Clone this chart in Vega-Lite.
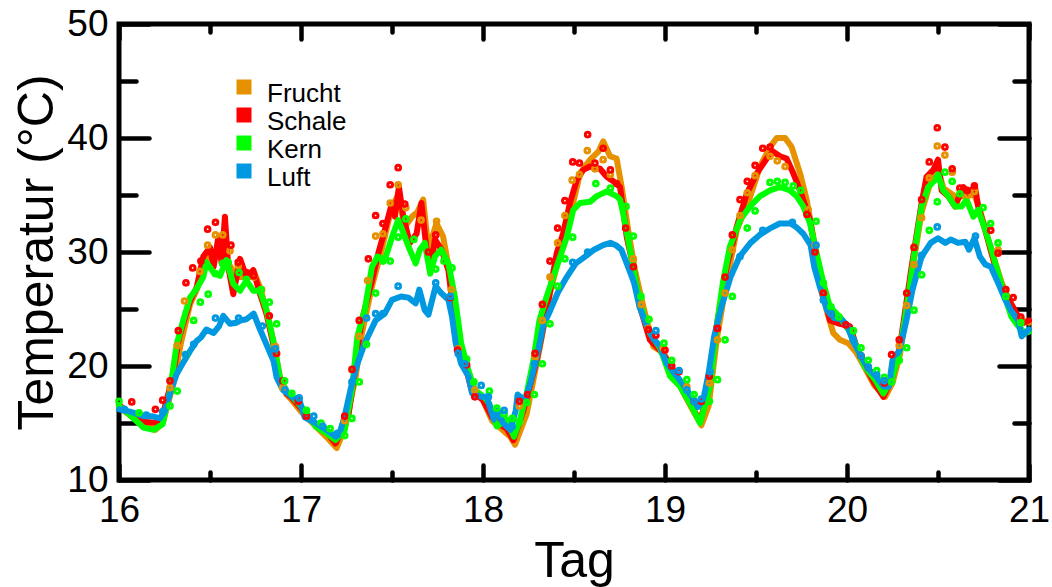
{
"$schema":"https://vega.github.io/schema/vega-lite/v6.json",
"width":910,"height":456,
"autosize":{"type":"none"},
"padding":{"left":119,"top":24,"right":23,"bottom":107},
"background":"white",
"datasets":{
"L":[
{"s":"Frucht","d":16.0,"t":16.4},{"s":"Frucht","d":16.05,"t":15.8},{"s":"Frucht","d":16.134,"t":14.8},{"s":"Frucht","d":16.2,"t":14.4},{"s":"Frucht","d":16.24,"t":15.0},{"s":"Frucht","d":16.3,"t":18.5},{"s":"Frucht","d":16.34,"t":22.0},{"s":"Frucht","d":16.39,"t":25.4},{"s":"Frucht","d":16.43,"t":26.8},{"s":"Frucht","d":16.463,"t":28.7},{"s":"Frucht","d":16.5,"t":29.9},{"s":"Frucht","d":16.555,"t":29.6},{"s":"Frucht","d":16.59,"t":29.3},{"s":"Frucht","d":16.646,"t":27.8},{"s":"Frucht","d":16.72,"t":27.8},{"s":"Frucht","d":16.738,"t":28.4},{"s":"Frucht","d":16.775,"t":26.9},{"s":"Frucht","d":16.81,"t":24.9},{"s":"Frucht","d":16.848,"t":22.2},{"s":"Frucht","d":16.884,"t":19.0},{"s":"Frucht","d":16.92,"t":17.5},{"s":"Frucht","d":16.95,"t":17.0},{"s":"Frucht","d":17.0,"t":16.0},{"s":"Frucht","d":17.05,"t":15.2},{"s":"Frucht","d":17.1,"t":14.4},{"s":"Frucht","d":17.15,"t":13.6},{"s":"Frucht","d":17.196,"t":12.8},{"s":"Frucht","d":17.24,"t":14.5},{"s":"Frucht","d":17.3,"t":19.0},{"s":"Frucht","d":17.33,"t":22.5},{"s":"Frucht","d":17.39,"t":27.0},{"s":"Frucht","d":17.44,"t":30.0},{"s":"Frucht","d":17.5,"t":34.0},{"s":"Frucht","d":17.534,"t":35.0},{"s":"Frucht","d":17.57,"t":32.2},{"s":"Frucht","d":17.61,"t":33.1},{"s":"Frucht","d":17.64,"t":33.5},{"s":"Frucht","d":17.671,"t":34.6},{"s":"Frucht","d":17.7,"t":30.2},{"s":"Frucht","d":17.744,"t":32.5},{"s":"Frucht","d":17.78,"t":31.4},{"s":"Frucht","d":17.818,"t":28.1},{"s":"Frucht","d":17.864,"t":22.6},{"s":"Frucht","d":17.9,"t":20.3},{"s":"Frucht","d":17.95,"t":18.0},{"s":"Frucht","d":18.0,"t":17.0},{"s":"Frucht","d":18.05,"t":15.2},{"s":"Frucht","d":18.1,"t":14.5},{"s":"Frucht","d":18.15,"t":13.8},{"s":"Frucht","d":18.176,"t":13.1},{"s":"Frucht","d":18.24,"t":15.8},{"s":"Frucht","d":18.313,"t":21.7},{"s":"Frucht","d":18.368,"t":26.4},{"s":"Frucht","d":18.423,"t":29.9},{"s":"Frucht","d":18.478,"t":33.1},{"s":"Frucht","d":18.533,"t":36.9},{"s":"Frucht","d":18.588,"t":38.1},{"s":"Frucht","d":18.634,"t":38.8},{"s":"Frucht","d":18.661,"t":39.7},{"s":"Frucht","d":18.698,"t":38.4},{"s":"Frucht","d":18.734,"t":38.2},{"s":"Frucht","d":18.762,"t":35.7},{"s":"Frucht","d":18.798,"t":31.9},{"s":"Frucht","d":18.835,"t":28.4},{"s":"Frucht","d":18.881,"t":25.2},{"s":"Frucht","d":18.936,"t":21.7},{"s":"Frucht","d":18.99,"t":21.2},{"s":"Frucht","d":19.05,"t":19.5},{"s":"Frucht","d":19.1,"t":17.7},{"s":"Frucht","d":19.15,"t":16.2},{"s":"Frucht","d":19.2,"t":14.8},{"s":"Frucht","d":19.24,"t":16.5},{"s":"Frucht","d":19.284,"t":22.3},{"s":"Frucht","d":19.339,"t":27.5},{"s":"Frucht","d":19.394,"t":31.9},{"s":"Frucht","d":19.467,"t":34.8},{"s":"Frucht","d":19.522,"t":37.5},{"s":"Frucht","d":19.577,"t":39.2},{"s":"Frucht","d":19.614,"t":40.0},{"s":"Frucht","d":19.66,"t":40.0},{"s":"Frucht","d":19.696,"t":39.2},{"s":"Frucht","d":19.742,"t":36.9},{"s":"Frucht","d":19.778,"t":34.6},{"s":"Frucht","d":19.815,"t":31.3},{"s":"Frucht","d":19.851,"t":27.5},{"s":"Frucht","d":19.888,"t":24.9},{"s":"Frucht","d":19.924,"t":22.9},{"s":"Frucht","d":19.961,"t":22.3},{"s":"Frucht","d":20.007,"t":22.0},{"s":"Frucht","d":20.05,"t":21.2},{"s":"Frucht","d":20.1,"t":19.8},{"s":"Frucht","d":20.15,"t":18.3},{"s":"Frucht","d":20.21,"t":17.3},{"s":"Frucht","d":20.25,"t":18.5},{"s":"Frucht","d":20.291,"t":21.0},{"s":"Frucht","d":20.355,"t":28.0},{"s":"Frucht","d":20.41,"t":33.5},{"s":"Frucht","d":20.46,"t":36.2},{"s":"Frucht","d":20.5,"t":37.2},{"s":"Frucht","d":20.53,"t":35.6},{"s":"Frucht","d":20.6,"t":34.8},{"s":"Frucht","d":20.64,"t":34.9},{"s":"Frucht","d":20.7,"t":35.0},{"s":"Frucht","d":20.73,"t":33.7},{"s":"Frucht","d":20.76,"t":32.0},{"s":"Frucht","d":20.8,"t":29.8},{"s":"Frucht","d":20.85,"t":27.3},{"s":"Frucht","d":20.9,"t":25.4},{"s":"Frucht","d":20.95,"t":24.0},{"s":"Frucht","d":21.0,"t":23.8},
{"s":"Schale","d":16.0,"t":16.6},{"s":"Schale","d":16.05,"t":15.9},{"s":"Schale","d":16.134,"t":15.1},{"s":"Schale","d":16.21,"t":15.0},{"s":"Schale","d":16.24,"t":15.7},{"s":"Schale","d":16.295,"t":19.0},{"s":"Schale","d":16.33,"t":22.5},{"s":"Schale","d":16.39,"t":25.7},{"s":"Schale","d":16.427,"t":26.9},{"s":"Schale","d":16.463,"t":29.6},{"s":"Schale","d":16.5,"t":30.4},{"s":"Schale","d":16.52,"t":28.7},{"s":"Schale","d":16.546,"t":31.3},{"s":"Schale","d":16.564,"t":29.0},{"s":"Schale","d":16.582,"t":33.1},{"s":"Schale","d":16.6,"t":28.7},{"s":"Schale","d":16.628,"t":26.3},{"s":"Schale","d":16.665,"t":29.4},{"s":"Schale","d":16.7,"t":27.8},{"s":"Schale","d":16.738,"t":28.4},{"s":"Schale","d":16.775,"t":26.3},{"s":"Schale","d":16.81,"t":24.6},{"s":"Schale","d":16.848,"t":21.9},{"s":"Schale","d":16.884,"t":18.8},{"s":"Schale","d":16.92,"t":17.6},{"s":"Schale","d":16.95,"t":17.2},{"s":"Schale","d":17.0,"t":16.3},{"s":"Schale","d":17.05,"t":15.4},{"s":"Schale","d":17.1,"t":14.6},{"s":"Schale","d":17.15,"t":14.0},{"s":"Schale","d":17.19,"t":13.2},{"s":"Schale","d":17.26,"t":15.6},{"s":"Schale","d":17.3,"t":19.9},{"s":"Schale","d":17.33,"t":23.7},{"s":"Schale","d":17.39,"t":27.5},{"s":"Schale","d":17.425,"t":29.9},{"s":"Schale","d":17.46,"t":31.9},{"s":"Schale","d":17.5,"t":34.3},{"s":"Schale","d":17.516,"t":33.1},{"s":"Schale","d":17.538,"t":35.7},{"s":"Schale","d":17.562,"t":33.1},{"s":"Schale","d":17.598,"t":30.8},{"s":"Schale","d":17.635,"t":31.6},{"s":"Schale","d":17.662,"t":34.3},{"s":"Schale","d":17.69,"t":30.2},{"s":"Schale","d":17.717,"t":29.0},{"s":"Schale","d":17.736,"t":31.1},{"s":"Schale","d":17.772,"t":30.2},{"s":"Schale","d":17.81,"t":28.4},{"s":"Schale","d":17.845,"t":23.7},{"s":"Schale","d":17.882,"t":21.4},{"s":"Schale","d":17.937,"t":17.9},{"s":"Schale","d":18.0,"t":17.0},{"s":"Schale","d":18.05,"t":15.5},{"s":"Schale","d":18.1,"t":14.8},{"s":"Schale","d":18.13,"t":14.5},{"s":"Schale","d":18.167,"t":13.5},{"s":"Schale","d":18.222,"t":16.1},{"s":"Schale","d":18.295,"t":20.5},{"s":"Schale","d":18.35,"t":24.9},{"s":"Schale","d":18.405,"t":29.9},{"s":"Schale","d":18.44,"t":31.6},{"s":"Schale","d":18.478,"t":34.3},{"s":"Schale","d":18.515,"t":36.3},{"s":"Schale","d":18.551,"t":37.2},{"s":"Schale","d":18.588,"t":37.5},{"s":"Schale","d":18.643,"t":37.3},{"s":"Schale","d":18.68,"t":36.6},{"s":"Schale","d":18.716,"t":36.2},{"s":"Schale","d":18.753,"t":35.7},{"s":"Schale","d":18.79,"t":31.3},{"s":"Schale","d":18.826,"t":28.7},{"s":"Schale","d":18.862,"t":25.2},{"s":"Schale","d":18.917,"t":22.3},{"s":"Schale","d":18.972,"t":21.4},{"s":"Schale","d":19.0,"t":20.8},{"s":"Schale","d":19.05,"t":19.5},{"s":"Schale","d":19.1,"t":17.8},{"s":"Schale","d":19.15,"t":16.4},{"s":"Schale","d":19.193,"t":15.1},{"s":"Schale","d":19.24,"t":18.0},{"s":"Schale","d":19.284,"t":23.5},{"s":"Schale","d":19.339,"t":28.7},{"s":"Schale","d":19.394,"t":32.2},{"s":"Schale","d":19.449,"t":35.1},{"s":"Schale","d":19.504,"t":36.9},{"s":"Schale","d":19.559,"t":38.2},{"s":"Schale","d":19.595,"t":38.8},{"s":"Schale","d":19.632,"t":38.4},{"s":"Schale","d":19.668,"t":38.2},{"s":"Schale","d":19.705,"t":36.9},{"s":"Schale","d":19.742,"t":35.4},{"s":"Schale","d":19.797,"t":32.8},{"s":"Schale","d":19.833,"t":29.3},{"s":"Schale","d":19.87,"t":26.4},{"s":"Schale","d":19.906,"t":24.0},{"s":"Schale","d":19.961,"t":23.7},{"s":"Schale","d":20.016,"t":23.5},{"s":"Schale","d":20.05,"t":21.8},{"s":"Schale","d":20.1,"t":20.0},{"s":"Schale","d":20.15,"t":18.5},{"s":"Schale","d":20.2,"t":17.3},{"s":"Schale","d":20.245,"t":18.8},{"s":"Schale","d":20.291,"t":21.7},{"s":"Schale","d":20.355,"t":28.7},{"s":"Schale","d":20.41,"t":34.3},{"s":"Schale","d":20.437,"t":36.6},{"s":"Schale","d":20.474,"t":37.2},{"s":"Schale","d":20.5,"t":38.1},{"s":"Schale","d":20.52,"t":35.4},{"s":"Schale","d":20.556,"t":34.9},{"s":"Schale","d":20.593,"t":34.0},{"s":"Schale","d":20.639,"t":35.7},{"s":"Schale","d":20.666,"t":35.2},{"s":"Schale","d":20.703,"t":35.7},{"s":"Schale","d":20.721,"t":34.0},{"s":"Schale","d":20.758,"t":32.0},{"s":"Schale","d":20.794,"t":29.9},{"s":"Schale","d":20.831,"t":27.8},{"s":"Schale","d":20.867,"t":26.4},{"s":"Schale","d":20.922,"t":24.9},{"s":"Schale","d":20.959,"t":23.7},{"s":"Schale","d":21.0,"t":24.0},
{"s":"Kern","d":16.0,"t":16.5},{"s":"Kern","d":16.06,"t":15.7},{"s":"Kern","d":16.134,"t":14.6},{"s":"Kern","d":16.19,"t":14.4},{"s":"Kern","d":16.24,"t":14.9},{"s":"Kern","d":16.28,"t":17.8},{"s":"Kern","d":16.317,"t":21.9},{"s":"Kern","d":16.353,"t":24.0},{"s":"Kern","d":16.39,"t":26.0},{"s":"Kern","d":16.427,"t":26.8},{"s":"Kern","d":16.463,"t":27.8},{"s":"Kern","d":16.48,"t":29.1},{"s":"Kern","d":16.52,"t":28.2},{"s":"Kern","d":16.555,"t":27.9},{"s":"Kern","d":16.59,"t":29.3},{"s":"Kern","d":16.628,"t":27.2},{"s":"Kern","d":16.665,"t":26.6},{"s":"Kern","d":16.7,"t":27.5},{"s":"Kern","d":16.738,"t":26.6},{"s":"Kern","d":16.775,"t":26.6},{"s":"Kern","d":16.81,"t":24.9},{"s":"Kern","d":16.848,"t":22.2},{"s":"Kern","d":16.884,"t":19.0},{"s":"Kern","d":16.92,"t":17.8},{"s":"Kern","d":16.976,"t":16.9},{"s":"Kern","d":17.03,"t":15.9},{"s":"Kern","d":17.08,"t":14.7},{"s":"Kern","d":17.14,"t":14.1},{"s":"Kern","d":17.19,"t":13.5},{"s":"Kern","d":17.24,"t":14.4},{"s":"Kern","d":17.28,"t":17.9},{"s":"Kern","d":17.31,"t":22.6},{"s":"Kern","d":17.35,"t":24.9},{"s":"Kern","d":17.39,"t":28.7},{"s":"Kern","d":17.42,"t":29.6},{"s":"Kern","d":17.46,"t":29.3},{"s":"Kern","d":17.5,"t":31.3},{"s":"Kern","d":17.534,"t":32.8},{"s":"Kern","d":17.55,"t":32.2},{"s":"Kern","d":17.59,"t":30.5},{"s":"Kern","d":17.63,"t":29.0},{"s":"Kern","d":17.653,"t":30.2},{"s":"Kern","d":17.68,"t":30.8},{"s":"Kern","d":17.71,"t":28.1},{"s":"Kern","d":17.736,"t":29.6},{"s":"Kern","d":17.77,"t":30.2},{"s":"Kern","d":17.81,"t":29.0},{"s":"Kern","d":17.845,"t":26.1},{"s":"Kern","d":17.88,"t":22.0},{"s":"Kern","d":17.92,"t":19.6},{"s":"Kern","d":17.955,"t":17.9},{"s":"Kern","d":18.01,"t":17.2},{"s":"Kern","d":18.035,"t":16.7},{"s":"Kern","d":18.075,"t":14.7},{"s":"Kern","d":18.13,"t":15.3},{"s":"Kern","d":18.17,"t":13.8},{"s":"Kern","d":18.204,"t":15.3},{"s":"Kern","d":18.24,"t":17.6},{"s":"Kern","d":18.277,"t":20.5},{"s":"Kern","d":18.31,"t":24.0},{"s":"Kern","d":18.35,"t":26.1},{"s":"Kern","d":18.405,"t":28.7},{"s":"Kern","d":18.46,"t":31.3},{"s":"Kern","d":18.496,"t":33.7},{"s":"Kern","d":18.533,"t":34.3},{"s":"Kern","d":18.588,"t":34.4},{"s":"Kern","d":18.625,"t":34.9},{"s":"Kern","d":18.68,"t":35.3},{"s":"Kern","d":18.734,"t":34.9},{"s":"Kern","d":18.753,"t":34.6},{"s":"Kern","d":18.77,"t":33.4},{"s":"Kern","d":18.808,"t":30.2},{"s":"Kern","d":18.844,"t":27.0},{"s":"Kern","d":18.88,"t":24.6},{"s":"Kern","d":18.917,"t":22.9},{"s":"Kern","d":18.972,"t":21.6},{"s":"Kern","d":19.028,"t":19.1},{"s":"Kern","d":19.083,"t":18.2},{"s":"Kern","d":19.138,"t":16.7},{"s":"Kern","d":19.193,"t":15.0},{"s":"Kern","d":19.247,"t":18.2},{"s":"Kern","d":19.284,"t":23.5},{"s":"Kern","d":19.32,"t":27.5},{"s":"Kern","d":19.357,"t":30.5},{"s":"Kern","d":19.412,"t":32.8},{"s":"Kern","d":19.467,"t":34.0},{"s":"Kern","d":19.522,"t":34.9},{"s":"Kern","d":19.577,"t":35.4},{"s":"Kern","d":19.632,"t":35.7},{"s":"Kern","d":19.687,"t":35.4},{"s":"Kern","d":19.723,"t":34.9},{"s":"Kern","d":19.76,"t":34.0},{"s":"Kern","d":19.797,"t":32.5},{"s":"Kern","d":19.833,"t":29.9},{"s":"Kern","d":19.87,"t":27.3},{"s":"Kern","d":19.906,"t":25.2},{"s":"Kern","d":19.961,"t":24.3},{"s":"Kern","d":20.016,"t":23.0},{"s":"Kern","d":20.05,"t":21.8},{"s":"Kern","d":20.099,"t":19.9},{"s":"Kern","d":20.154,"t":18.8},{"s":"Kern","d":20.2,"t":17.6},{"s":"Kern","d":20.245,"t":18.8},{"s":"Kern","d":20.291,"t":21.4},{"s":"Kern","d":20.337,"t":26.1},{"s":"Kern","d":20.373,"t":30.2},{"s":"Kern","d":20.41,"t":34.0},{"s":"Kern","d":20.446,"t":35.7},{"s":"Kern","d":20.483,"t":36.3},{"s":"Kern","d":20.5,"t":36.8},{"s":"Kern","d":20.529,"t":35.4},{"s":"Kern","d":20.556,"t":34.9},{"s":"Kern","d":20.593,"t":34.0},{"s":"Kern","d":20.63,"t":34.0},{"s":"Kern","d":20.657,"t":34.6},{"s":"Kern","d":20.694,"t":33.1},{"s":"Kern","d":20.721,"t":33.7},{"s":"Kern","d":20.758,"t":32.0},{"s":"Kern","d":20.794,"t":30.2},{"s":"Kern","d":20.831,"t":28.1},{"s":"Kern","d":20.867,"t":26.1},{"s":"Kern","d":20.904,"t":24.3},{"s":"Kern","d":20.941,"t":23.5},{"s":"Kern","d":20.977,"t":22.9},{"s":"Kern","d":21.0,"t":23.0},
{"s":"Luft","d":16.0,"t":16.2},{"s":"Luft","d":16.06,"t":16.0},{"s":"Luft","d":16.1,"t":15.8},{"s":"Luft","d":16.134,"t":15.6},{"s":"Luft","d":16.18,"t":15.6},{"s":"Luft","d":16.225,"t":15.4},{"s":"Luft","d":16.25,"t":16.0},{"s":"Luft","d":16.29,"t":18.1},{"s":"Luft","d":16.317,"t":19.3},{"s":"Luft","d":16.353,"t":20.3},{"s":"Luft","d":16.39,"t":21.3},{"s":"Luft","d":16.427,"t":22.2},{"s":"Luft","d":16.45,"t":22.5},{"s":"Luft","d":16.48,"t":23.2},{"s":"Luft","d":16.52,"t":22.9},{"s":"Luft","d":16.55,"t":23.5},{"s":"Luft","d":16.573,"t":24.4},{"s":"Luft","d":16.61,"t":23.7},{"s":"Luft","d":16.646,"t":23.8},{"s":"Luft","d":16.67,"t":24.0},{"s":"Luft","d":16.7,"t":24.1},{"s":"Luft","d":16.74,"t":24.6},{"s":"Luft","d":16.775,"t":23.2},{"s":"Luft","d":16.81,"t":21.9},{"s":"Luft","d":16.85,"t":20.4},{"s":"Luft","d":16.866,"t":19.0},{"s":"Luft","d":16.9,"t":17.9},{"s":"Luft","d":16.96,"t":17.2},{"s":"Luft","d":16.99,"t":17.1},{"s":"Luft","d":17.02,"t":15.5},{"s":"Luft","d":17.08,"t":15.0},{"s":"Luft","d":17.13,"t":14.5},{"s":"Luft","d":17.19,"t":13.8},{"s":"Luft","d":17.21,"t":14.0},{"s":"Luft","d":17.24,"t":15.6},{"s":"Luft","d":17.28,"t":18.5},{"s":"Luft","d":17.31,"t":20.2},{"s":"Luft","d":17.35,"t":22.0},{"s":"Luft","d":17.41,"t":24.0},{"s":"Luft","d":17.46,"t":24.6},{"s":"Luft","d":17.5,"t":25.8},{"s":"Luft","d":17.55,"t":26.1},{"s":"Luft","d":17.59,"t":26.0},{"s":"Luft","d":17.63,"t":25.5},{"s":"Luft","d":17.65,"t":26.7},{"s":"Luft","d":17.68,"t":24.9},{"s":"Luft","d":17.7,"t":24.5},{"s":"Luft","d":17.74,"t":27.0},{"s":"Luft","d":17.77,"t":26.4},{"s":"Luft","d":17.81,"t":25.8},{"s":"Luft","d":17.83,"t":24.3},{"s":"Luft","d":17.85,"t":22.0},{"s":"Luft","d":17.88,"t":20.2},{"s":"Luft","d":17.92,"t":19.1},{"s":"Luft","d":17.94,"t":17.6},{"s":"Luft","d":17.99,"t":17.3},{"s":"Luft","d":18.02,"t":17.3},{"s":"Luft","d":18.06,"t":15.3},{"s":"Luft","d":18.08,"t":16.1},{"s":"Luft","d":18.11,"t":15.0},{"s":"Luft","d":18.15,"t":14.4},{"s":"Luft","d":18.18,"t":16.1},{"s":"Luft","d":18.19,"t":17.5},{"s":"Luft","d":18.23,"t":17.0},{"s":"Luft","d":18.26,"t":18.5},{"s":"Luft","d":18.3,"t":21.1},{"s":"Luft","d":18.33,"t":23.5},{"s":"Luft","d":18.37,"t":24.9},{"s":"Luft","d":18.41,"t":26.4},{"s":"Luft","d":18.46,"t":27.8},{"s":"Luft","d":18.51,"t":29.0},{"s":"Luft","d":18.57,"t":29.7},{"s":"Luft","d":18.61,"t":30.2},{"s":"Luft","d":18.66,"t":30.6},{"s":"Luft","d":18.7,"t":30.8},{"s":"Luft","d":18.73,"t":30.6},{"s":"Luft","d":18.76,"t":30.2},{"s":"Luft","d":18.79,"t":29.0},{"s":"Luft","d":18.83,"t":27.3},{"s":"Luft","d":18.86,"t":25.2},{"s":"Luft","d":18.9,"t":23.5},{"s":"Luft","d":18.94,"t":22.3},{"s":"Luft","d":18.97,"t":21.8},{"s":"Luft","d":19.01,"t":20.2},{"s":"Luft","d":19.05,"t":19.4},{"s":"Luft","d":19.08,"t":18.8},{"s":"Luft","d":19.12,"t":17.9},{"s":"Luft","d":19.16,"t":17.0},{"s":"Luft","d":19.18,"t":16.4},{"s":"Luft","d":19.21,"t":17.0},{"s":"Luft","d":19.24,"t":19.4},{"s":"Luft","d":19.27,"t":22.6},{"s":"Luft","d":19.31,"t":25.2},{"s":"Luft","d":19.36,"t":27.8},{"s":"Luft","d":19.41,"t":29.6},{"s":"Luft","d":19.47,"t":30.8},{"s":"Luft","d":19.52,"t":31.5},{"s":"Luft","d":19.58,"t":32.1},{"s":"Luft","d":19.63,"t":32.5},{"s":"Luft","d":19.69,"t":32.5},{"s":"Luft","d":19.72,"t":32.2},{"s":"Luft","d":19.76,"t":31.6},{"s":"Luft","d":19.8,"t":30.6},{"s":"Luft","d":19.82,"t":28.7},{"s":"Luft","d":19.85,"t":27.0},{"s":"Luft","d":19.89,"t":24.9},{"s":"Luft","d":19.93,"t":24.2},{"s":"Luft","d":19.97,"t":24.1},{"s":"Luft","d":20.0,"t":23.6},{"s":"Luft","d":20.03,"t":22.3},{"s":"Luft","d":20.08,"t":20.8},{"s":"Luft","d":20.12,"t":19.7},{"s":"Luft","d":20.16,"t":19.1},{"s":"Luft","d":20.2,"t":18.2},{"s":"Luft","d":20.23,"t":18.2},{"s":"Luft","d":20.25,"t":20.5},{"s":"Luft","d":20.29,"t":21.4},{"s":"Luft","d":20.33,"t":24.3},{"s":"Luft","d":20.36,"t":26.7},{"s":"Luft","d":20.41,"t":29.6},{"s":"Luft","d":20.46,"t":30.8},{"s":"Luft","d":20.5,"t":31.2},{"s":"Luft","d":20.54,"t":30.8},{"s":"Luft","d":20.57,"t":31.1},{"s":"Luft","d":20.61,"t":30.8},{"s":"Luft","d":20.65,"t":30.9},{"s":"Luft","d":20.67,"t":30.2},{"s":"Luft","d":20.7,"t":31.2},{"s":"Luft","d":20.73,"t":29.6},{"s":"Luft","d":20.76,"t":28.9},{"s":"Luft","d":20.79,"t":28.7},{"s":"Luft","d":20.83,"t":27.3},{"s":"Luft","d":20.87,"t":25.8},{"s":"Luft","d":20.9,"t":24.9},{"s":"Luft","d":20.94,"t":24.0},{"s":"Luft","d":20.96,"t":22.6},{"s":"Luft","d":21.0,"t":23.2}
],
"P":[
{"s":"Frucht","d":16.28,"t":18.1},{"s":"Frucht","d":16.32,"t":21.8},{"s":"Frucht","d":16.36,"t":25.7},{"s":"Frucht","d":16.445,"t":28.3},{"s":"Frucht","d":16.487,"t":30.6},{"s":"Frucht","d":16.53,"t":31.5},{"s":"Frucht","d":16.57,"t":31.5},{"s":"Frucht","d":16.61,"t":30.1},{"s":"Frucht","d":16.655,"t":28.8},{"s":"Frucht","d":16.74,"t":27.8},{"s":"Frucht","d":16.784,"t":26.7},{"s":"Frucht","d":16.86,"t":21.7},{"s":"Frucht","d":16.9,"t":18.1},{"s":"Frucht","d":17.24,"t":15.2},{"s":"Frucht","d":17.32,"t":22.6},{"s":"Frucht","d":17.366,"t":27.5},{"s":"Frucht","d":17.41,"t":31.4},{"s":"Frucht","d":17.45,"t":31.6},{"s":"Frucht","d":17.49,"t":34.3},{"s":"Frucht","d":17.534,"t":35.9},{"s":"Frucht","d":17.576,"t":33.9},{"s":"Frucht","d":17.66,"t":32.8},{"s":"Frucht","d":17.745,"t":32.7},{"s":"Frucht","d":17.827,"t":26.7},{"s":"Frucht","d":17.864,"t":21.5},{"s":"Frucht","d":17.955,"t":17.9},{"s":"Frucht","d":18.2,"t":16.5},{"s":"Frucht","d":18.286,"t":20.8},{"s":"Frucht","d":18.326,"t":24.0},{"s":"Frucht","d":18.368,"t":27.8},{"s":"Frucht","d":18.41,"t":30.8},{"s":"Frucht","d":18.45,"t":33.2},{"s":"Frucht","d":18.49,"t":36.3},{"s":"Frucht","d":18.53,"t":36.8},{"s":"Frucht","d":18.573,"t":38.9},{"s":"Frucht","d":18.615,"t":37.3},{"s":"Frucht","d":18.66,"t":38.1},{"s":"Frucht","d":18.7,"t":36.8},{"s":"Frucht","d":18.826,"t":29.4},{"s":"Frucht","d":18.87,"t":25.4},{"s":"Frucht","d":18.908,"t":23.3},{"s":"Frucht","d":18.99,"t":21.6},{"s":"Frucht","d":19.12,"t":18.2},{"s":"Frucht","d":19.244,"t":18.5},{"s":"Frucht","d":19.288,"t":22.3},{"s":"Frucht","d":19.33,"t":26.4},{"s":"Frucht","d":19.37,"t":30.2},{"s":"Frucht","d":19.412,"t":33.2},{"s":"Frucht","d":19.452,"t":35.2},{"s":"Frucht","d":19.495,"t":36.7},{"s":"Frucht","d":19.577,"t":38.4},{"s":"Frucht","d":19.617,"t":38.0},{"s":"Frucht","d":19.66,"t":37.5},{"s":"Frucht","d":19.787,"t":33.7},{"s":"Frucht","d":19.824,"t":30.6},{"s":"Frucht","d":19.87,"t":26.4},{"s":"Frucht","d":20.287,"t":21.8},{"s":"Frucht","d":20.328,"t":25.3},{"s":"Frucht","d":20.368,"t":28.9},{"s":"Frucht","d":20.41,"t":33.0},{"s":"Frucht","d":20.452,"t":36.5},{"s":"Frucht","d":20.496,"t":39.3},{"s":"Frucht","d":20.538,"t":38.5},{"s":"Frucht","d":20.578,"t":37.0},{"s":"Frucht","d":20.662,"t":35.0},{"s":"Frucht","d":20.7,"t":35.3},{"s":"Frucht","d":20.83,"t":30.2},{"s":"Frucht","d":20.955,"t":24.1},
{"s":"Schale","d":16.07,"t":16.85},{"s":"Schale","d":16.2,"t":16.2},{"s":"Schale","d":16.24,"t":17.0},{"s":"Schale","d":16.28,"t":18.7},{"s":"Schale","d":16.326,"t":23.1},{"s":"Schale","d":16.368,"t":27.3},{"s":"Schale","d":16.405,"t":28.6},{"s":"Schale","d":16.45,"t":29.2},{"s":"Schale","d":16.487,"t":32.0},{"s":"Schale","d":16.53,"t":32.6},{"s":"Schale","d":16.615,"t":30.6},{"s":"Schale","d":16.655,"t":29.1},{"s":"Schale","d":16.7,"t":28.2},{"s":"Schale","d":16.74,"t":27.9},{"s":"Schale","d":16.826,"t":24.4},{"s":"Schale","d":16.866,"t":21.1},{"s":"Schale","d":16.9,"t":18.7},{"s":"Schale","d":16.985,"t":16.9},{"s":"Schale","d":17.03,"t":15.6},{"s":"Schale","d":17.24,"t":15.6},{"s":"Schale","d":17.28,"t":19.7},{"s":"Schale","d":17.32,"t":24.0},{"s":"Schale","d":17.37,"t":29.4},{"s":"Schale","d":17.41,"t":33.2},{"s":"Schale","d":17.45,"t":32.5},{"s":"Schale","d":17.49,"t":35.9},{"s":"Schale","d":17.534,"t":37.4},{"s":"Schale","d":17.57,"t":34.2},{"s":"Schale","d":17.7,"t":30.0},{"s":"Schale","d":17.74,"t":31.5},{"s":"Schale","d":17.82,"t":26.0},{"s":"Schale","d":17.86,"t":21.4},{"s":"Schale","d":17.91,"t":20.1},{"s":"Schale","d":17.955,"t":17.3},{"s":"Schale","d":18.2,"t":16.9},{"s":"Schale","d":18.246,"t":17.5},{"s":"Schale","d":18.286,"t":21.1},{"s":"Schale","d":18.326,"t":25.4},{"s":"Schale","d":18.368,"t":29.2},{"s":"Schale","d":18.41,"t":32.1},{"s":"Schale","d":18.45,"t":34.5},{"s":"Schale","d":18.493,"t":37.9},{"s":"Schale","d":18.53,"t":37.8},{"s":"Schale","d":18.575,"t":40.3},{"s":"Schale","d":18.615,"t":37.8},{"s":"Schale","d":18.66,"t":39.1},{"s":"Schale","d":18.7,"t":37.2},{"s":"Schale","d":18.734,"t":36.0},{"s":"Schale","d":18.784,"t":32.1},{"s":"Schale","d":18.826,"t":28.7},{"s":"Schale","d":18.908,"t":23.2},{"s":"Schale","d":18.95,"t":22.7},{"s":"Schale","d":19.0,"t":21.4},{"s":"Schale","d":19.037,"t":20.0},{"s":"Schale","d":19.077,"t":19.5},{"s":"Schale","d":19.16,"t":16.9},{"s":"Schale","d":19.2,"t":16.9},{"s":"Schale","d":19.244,"t":19.1},{"s":"Schale","d":19.288,"t":23.3},{"s":"Schale","d":19.33,"t":27.8},{"s":"Schale","d":19.37,"t":31.5},{"s":"Schale","d":19.412,"t":34.6},{"s":"Schale","d":19.452,"t":36.2},{"s":"Schale","d":19.495,"t":37.6},{"s":"Schale","d":19.537,"t":39.1},{"s":"Schale","d":19.577,"t":39.2},{"s":"Schale","d":19.78,"t":33.3},{"s":"Schale","d":19.824,"t":30.0},{"s":"Schale","d":19.87,"t":26.4},{"s":"Schale","d":19.912,"t":24.6},{"s":"Schale","d":19.994,"t":23.6},{"s":"Schale","d":20.077,"t":20.9},{"s":"Schale","d":20.117,"t":19.9},{"s":"Schale","d":20.205,"t":18.5},{"s":"Schale","d":20.245,"t":21.0},{"s":"Schale","d":20.287,"t":22.3},{"s":"Schale","d":20.328,"t":26.4},{"s":"Schale","d":20.368,"t":30.4},{"s":"Schale","d":20.41,"t":34.6},{"s":"Schale","d":20.452,"t":37.9},{"s":"Schale","d":20.496,"t":40.9},{"s":"Schale","d":20.538,"t":39.2},{"s":"Schale","d":20.578,"t":37.3},{"s":"Schale","d":20.62,"t":35.6},{"s":"Schale","d":20.66,"t":35.4},{"s":"Schale","d":20.7,"t":35.8},{"s":"Schale","d":20.79,"t":31.9},{"s":"Schale","d":20.83,"t":29.9},{"s":"Schale","d":20.873,"t":26.7},{"s":"Schale","d":20.913,"t":26.0},{"s":"Schale","d":20.955,"t":24.3},
{"s":"Kern","d":16.0,"t":16.9},{"s":"Kern","d":16.11,"t":15.9},{"s":"Kern","d":16.28,"t":16.5},{"s":"Kern","d":16.32,"t":17.8},{"s":"Kern","d":16.368,"t":21.0},{"s":"Kern","d":16.41,"t":24.0},{"s":"Kern","d":16.447,"t":25.6},{"s":"Kern","d":16.49,"t":26.3},{"s":"Kern","d":16.53,"t":28.1},{"s":"Kern","d":16.57,"t":29.0},{"s":"Kern","d":16.6,"t":29.1},{"s":"Kern","d":16.66,"t":28.2},{"s":"Kern","d":16.7,"t":27.6},{"s":"Kern","d":16.78,"t":26.7},{"s":"Kern","d":16.826,"t":25.6},{"s":"Kern","d":16.866,"t":23.7},{"s":"Kern","d":16.91,"t":18.7},{"s":"Kern","d":16.95,"t":17.6},{"s":"Kern","d":17.03,"t":16.1},{"s":"Kern","d":17.11,"t":15.0},{"s":"Kern","d":17.16,"t":14.5},{"s":"Kern","d":17.24,"t":13.9},{"s":"Kern","d":17.28,"t":15.4},{"s":"Kern","d":17.32,"t":18.6},{"s":"Kern","d":17.36,"t":21.9},{"s":"Kern","d":17.41,"t":26.4},{"s":"Kern","d":17.45,"t":29.2},{"s":"Kern","d":17.49,"t":29.2},{"s":"Kern","d":17.534,"t":31.3},{"s":"Kern","d":17.576,"t":32.9},{"s":"Kern","d":17.62,"t":31.1},{"s":"Kern","d":17.74,"t":28.5},{"s":"Kern","d":17.785,"t":29.2},{"s":"Kern","d":17.83,"t":28.6},{"s":"Kern","d":17.91,"t":20.6},{"s":"Kern","d":17.95,"t":18.6},{"s":"Kern","d":18.035,"t":17.8},{"s":"Kern","d":18.076,"t":16.3},{"s":"Kern","d":18.116,"t":15.8},{"s":"Kern","d":18.16,"t":15.4},{"s":"Kern","d":18.2,"t":15.1},{"s":"Kern","d":18.24,"t":16.8},{"s":"Kern","d":18.282,"t":17.5},{"s":"Kern","d":18.326,"t":20.2},{"s":"Kern","d":18.368,"t":23.7},{"s":"Kern","d":18.41,"t":27.0},{"s":"Kern","d":18.45,"t":29.4},{"s":"Kern","d":18.493,"t":31.3},{"s":"Kern","d":18.62,"t":36.0},{"s":"Kern","d":18.7,"t":35.6},{"s":"Kern","d":18.786,"t":34.0},{"s":"Kern","d":18.826,"t":31.4},{"s":"Kern","d":18.868,"t":26.1},{"s":"Kern","d":18.912,"t":24.1},{"s":"Kern","d":18.994,"t":22.0},{"s":"Kern","d":19.037,"t":20.5},{"s":"Kern","d":19.12,"t":18.8},{"s":"Kern","d":19.16,"t":17.5},{"s":"Kern","d":19.244,"t":16.9},{"s":"Kern","d":19.288,"t":18.8},{"s":"Kern","d":19.33,"t":22.3},{"s":"Kern","d":19.37,"t":26.1},{"s":"Kern","d":19.452,"t":32.1},{"s":"Kern","d":19.495,"t":33.6},{"s":"Kern","d":19.577,"t":36.1},{"s":"Kern","d":19.617,"t":36.2},{"s":"Kern","d":19.66,"t":36.1},{"s":"Kern","d":19.705,"t":35.8},{"s":"Kern","d":19.745,"t":35.4},{"s":"Kern","d":19.83,"t":32.7},{"s":"Kern","d":19.87,"t":27.3},{"s":"Kern","d":19.912,"t":25.2},{"s":"Kern","d":19.956,"t":24.3},{"s":"Kern","d":20.035,"t":23.1},{"s":"Kern","d":20.077,"t":21.6},{"s":"Kern","d":20.117,"t":20.5},{"s":"Kern","d":20.163,"t":19.6},{"s":"Kern","d":20.205,"t":19.0},{"s":"Kern","d":20.245,"t":18.6},{"s":"Kern","d":20.287,"t":20.5},{"s":"Kern","d":20.328,"t":21.6},{"s":"Kern","d":20.368,"t":24.9},{"s":"Kern","d":20.41,"t":28.0},{"s":"Kern","d":20.452,"t":31.9},{"s":"Kern","d":20.496,"t":34.4},{"s":"Kern","d":20.538,"t":37.0},{"s":"Kern","d":20.578,"t":36.2},{"s":"Kern","d":20.62,"t":35.1},{"s":"Kern","d":20.748,"t":33.9},{"s":"Kern","d":20.789,"t":32.5},{"s":"Kern","d":20.83,"t":30.8},{"s":"Kern","d":20.873,"t":26.1},{"s":"Kern","d":20.955,"t":23.8},
{"s":"Luft","d":16.03,"t":16.2},{"s":"Luft","d":16.15,"t":15.7},{"s":"Luft","d":16.24,"t":16.0},{"s":"Luft","d":16.366,"t":21.0},{"s":"Luft","d":16.41,"t":21.9},{"s":"Luft","d":16.53,"t":24.2},{"s":"Luft","d":16.657,"t":24.2},{"s":"Luft","d":16.787,"t":23.5},{"s":"Luft","d":16.86,"t":21.5},{"s":"Luft","d":16.912,"t":17.9},{"s":"Luft","d":16.99,"t":17.2},{"s":"Luft","d":17.07,"t":15.6},{"s":"Luft","d":17.12,"t":14.7},{"s":"Luft","d":17.2,"t":14.1},{"s":"Luft","d":17.28,"t":18.6},{"s":"Luft","d":17.36,"t":24.2},{"s":"Luft","d":17.41,"t":24.6},{"s":"Luft","d":17.45,"t":24.6},{"s":"Luft","d":17.534,"t":27.0},{"s":"Luft","d":17.74,"t":27.3},{"s":"Luft","d":17.82,"t":26.1},{"s":"Luft","d":17.864,"t":21.1},{"s":"Luft","d":17.9,"t":20.2},{"s":"Luft","d":17.99,"t":18.3},{"s":"Luft","d":18.03,"t":17.3},{"s":"Luft","d":18.116,"t":16.1},{"s":"Luft","d":18.16,"t":14.7},{"s":"Luft","d":18.282,"t":20.2},{"s":"Luft","d":18.493,"t":29.1},{"s":"Luft","d":18.575,"t":30.0},{"s":"Luft","d":18.95,"t":23.1},{"s":"Luft","d":19.077,"t":19.6},{"s":"Luft","d":19.12,"t":17.9},{"s":"Luft","d":19.16,"t":16.9},{"s":"Luft","d":19.2,"t":17.1},{"s":"Luft","d":19.247,"t":19.5},{"s":"Luft","d":19.412,"t":29.6},{"s":"Luft","d":19.537,"t":31.9},{"s":"Luft","d":19.7,"t":32.6},{"s":"Luft","d":19.83,"t":30.6},{"s":"Luft","d":19.87,"t":25.8},{"s":"Luft","d":19.912,"t":24.6},{"s":"Luft","d":20.035,"t":22.3},{"s":"Luft","d":20.077,"t":20.9},{"s":"Luft","d":20.117,"t":19.9},{"s":"Luft","d":20.163,"t":19.2},{"s":"Luft","d":20.205,"t":18.7},{"s":"Luft","d":20.41,"t":29.7},{"s":"Luft","d":20.496,"t":32.2},{"s":"Luft","d":20.706,"t":31.4}
]
},
"layer":[
{"data":{"name":"L"},
 "mark":{"type":"line","strokeWidth":6,"strokeJoin":"round","strokeCap":"round"},
 "encoding":{
  "x":{"field":"d","type":"quantitative","scale":{"domain":[16,21],"nice":false,"zero":false},
       "axis":{"orient":"bottom","values":[16,17,18,19,20,21],"tickSize":-15,"labelPadding":27,"labelFlush":false,"title":"Tag","titlePadding":8}},
  "y":{"field":"t","type":"quantitative","scale":{"domain":[10,50],"nice":false,"zero":false},
       "axis":{"orient":"left","values":[10,20,30,40,50],"tickSize":-30,"labelPadding":41,"title":"Temperatur (°C)","titlePadding":4}},
  "color":{"field":"s","type":"nominal",
    "scale":{"domain":["Frucht","Schale","Kern","Luft"],"range":["#E69100","#FF0000","#00FF00","#0098E0"]},
    "legend":{"title":null,"orient":"none","legendX":112,"legendY":56.5,"symbolType":"square","symbolSize":225,"symbolStrokeWidth":0,"symbolOpacity":1,"labelFont":"Liberation Sans","labelFontSize":26,"labelColor":"black","labelOffset":10,"rowPadding":1,"padding":0,
      "encode":{"symbols":{"update":{"fill":{"scale":"color","field":"value"},"stroke":{"value":"transparent"},"y":{"value":6.5}}}}}
  }
 }},
{"data":{"name":"P"},
 "mark":{"type":"point","shape":"circle","filled":false,"size":22,"strokeWidth":3,"opacity":1},
 "encoding":{
  "x":{"field":"d","type":"quantitative","axis":{"orient":"top","values":[16,17,18,19,20,21],"tickSize":-15,"labels":false,"title":null}},
  "y":{"field":"t","type":"quantitative","axis":{"orient":"right","values":[10,20,30,40,50],"tickSize":-30,"labels":false,"title":null}},
  "color":{"field":"s","type":"nominal","legend":null}
 }},
{"data":{"name":"P"},
 "mark":{"type":"point","opacity":0},
 "encoding":{
  "x":{"field":"d","type":"quantitative","axis":{"orient":"bottom","values":[16.5,17.5,18.5,19.5,20.5],"tickSize":-8,"labels":false,"title":null}},
  "y":{"field":"t","type":"quantitative","axis":{"orient":"left","values":[15,25,35,45],"tickSize":-17,"labels":false,"title":null}}
 }},
{"data":{"name":"P"},
 "mark":{"type":"point","opacity":0},
 "encoding":{
  "x":{"field":"d","type":"quantitative","axis":{"orient":"top","values":[16.5,17.5,18.5,19.5,20.5],"tickSize":-8,"labels":false,"title":null}},
  "y":{"field":"t","type":"quantitative","axis":{"orient":"right","values":[15,25,35,45],"tickSize":-15,"labels":false,"title":null}}
 }}
],
"resolve":{"axis":{"x":"independent","y":"independent"}},
"config":{
 "view":{"stroke":"black","strokeWidth":5},
 "axis":{"grid":false,"domain":false,"tickColor":"black","tickWidth":4.5,"tickCap":"round","labelFont":"Liberation Sans","labelFontSize":37,"labelColor":"black","titleFont":"Liberation Sans","titleFontSize":50,"titleFontWeight":"normal","titleColor":"black"}
}
}
